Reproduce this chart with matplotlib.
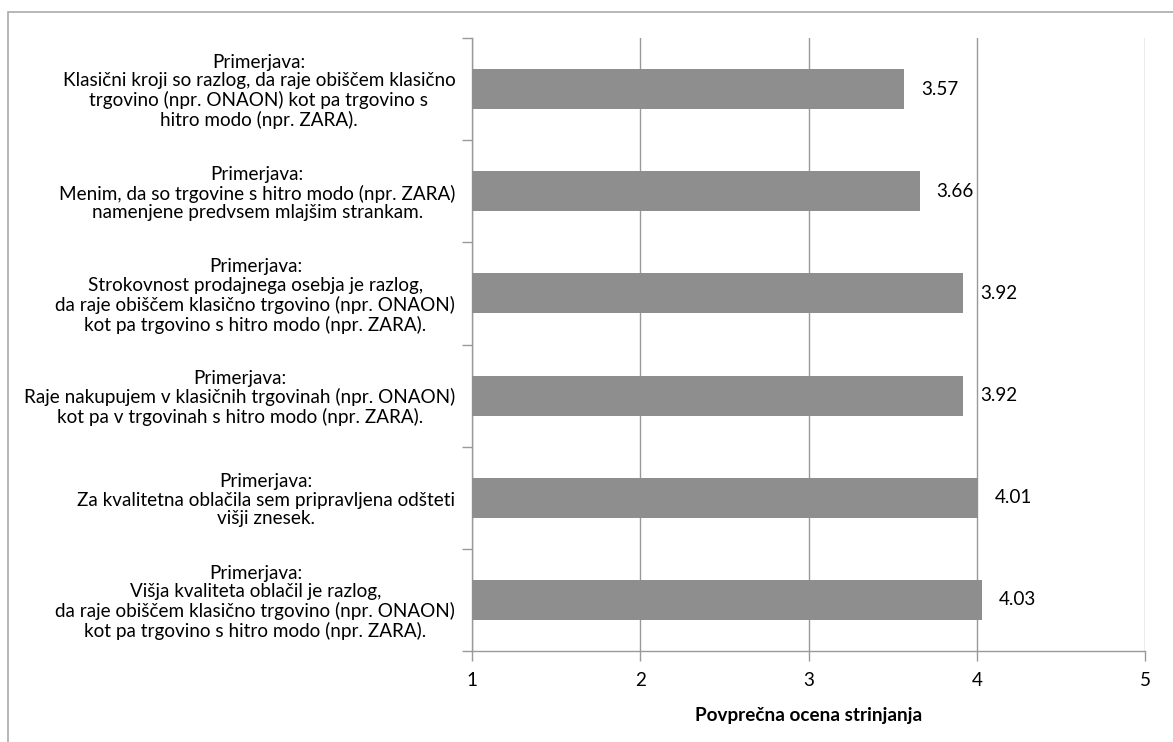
import matplotlib
matplotlib.use('Agg')
import matplotlib.pyplot as plt
from matplotlib.patches import Rectangle
import numpy as np

plt.rcParams['font.family'] = ['Lato', 'DejaVu Sans']

# podatki (od zgoraj navzdol)
labels = [
    "Primerjava:\nKlasični kroji so razlog, da raje obiščem klasično\ntrgovino (npr. ONAON) kot pa trgovino s\nhitro modo (npr. ZARA).",
    "Primerjava:\nMenim, da so trgovine s hitro modo (npr. ZARA)\nnamenjene predvsem mlajšim strankam.",
    "Primerjava:\nStrokovnost prodajnega osebja je razlog,\nda raje obiščem klasično trgovino (npr. ONAON)\nkot pa trgovino s hitro modo (npr. ZARA).",
    "Primerjava:\nRaje nakupujem v klasičnih trgovinah (npr. ONAON)\nkot pa v trgovinah s hitro modo (npr. ZARA).",
    "Primerjava:\nZa kvalitetna oblačila sem pripravljena odšteti\nvišji znesek.",
    "Primerjava:\nVišja kvaliteta oblačil je razlog,\nda raje obiščem klasično trgovino (npr. ONAON)\nkot pa trgovino s hitro modo (npr. ZARA).",
]
values = [3.57, 3.66, 3.92, 3.92, 4.01, 4.03]
xticks = [1, 2, 3, 4, 5]
xlabel = "Povprečna ocena strinjanja"

FS = 13.6

fig = plt.figure(figsize=(11.73, 7.42), dpi=100)
ax = fig.add_axes([472/1173, 1-651/742, 673/1173, 613/742])

# okvir grafikona
fig.patches.append(Rectangle((8/1173, -0.1), 1.2, 1-12/742+0.1, transform=fig.transFigure,
                             fill=False, edgecolor='#aaaaaa', lw=1.2))

y = np.arange(len(values))[::-1]
ax.barh(y, [v - 1 for v in values], left=1, height=0.39, color='#8e8e8e', zorder=3)
for yi, v in zip(y, values):
    ax.text(v + 0.1, yi, f"{v:.2f}", va='center', ha='left', fontsize=FS, color='black')

ax.set_xlim(1, 5)
ax.set_ylim(-0.5, len(values) - 0.5)
ax.set_xticks(xticks)
ax.set_xticklabels([str(t) for t in xticks], fontsize=FS)
ax.grid(axis='x', color='#999999', lw=1, zorder=0)

ax.set_yticks(y)
ax.set_yticklabels(labels, fontsize=FS, multialignment='center', linespacing=1.12)
ax.tick_params(axis='y', length=0, pad=12)
ax.set_yticks(np.arange(-0.5, len(values)), minor=True)
ax.tick_params(axis='y', which='minor', length=7, color='#999999', width=1)
ax.tick_params(axis='x', length=7, color='#999999', width=1, pad=8)

for s in ['top', 'right']:
    ax.spines[s].set_visible(False)
for s in ['left', 'bottom']:
    ax.spines[s].set_color('#999999')
    ax.spines[s].set_linewidth(1)

ax.set_xlabel(xlabel, fontsize=FS, fontweight='bold', labelpad=13)

fig.savefig('out.png', dpi=100)
